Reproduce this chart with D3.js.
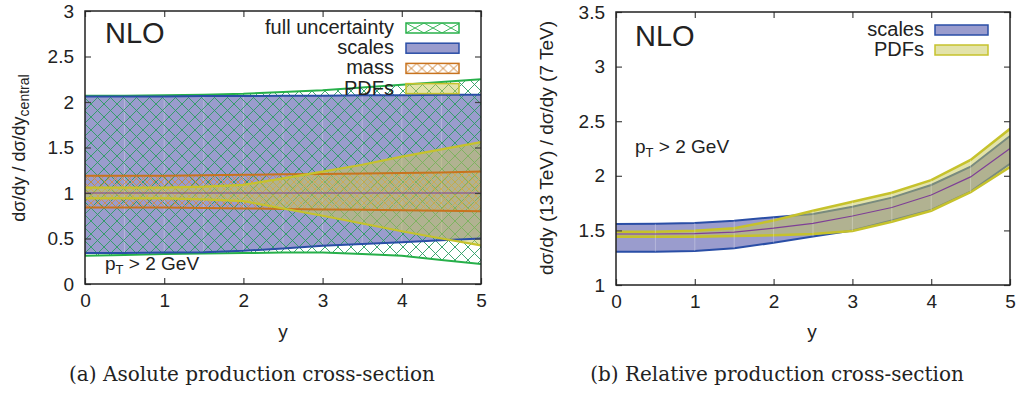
<!DOCTYPE html>
<html><head><meta charset="utf-8">
<script src="https://cdnjs.cloudflare.com/ajax/libs/d3/7.8.5/d3.min.js"></script>
<style>body{margin:0;background:#fff}svg{display:block}</style>
</head><body>
<svg id="c" width="1023" height="394"></svg>
<script>
// ---------- data ----------
const rapidity = [0,0.5,1,1.5,2,2.5,3,3.5,4,4.5,5];
const xTicks = [0,1,2,3,4,5];
const yTicksA = [0,0.5,1,1.5,2,2.5,3];
const yTicksB = [1,1.5,2,2.5,3,3.5];

// panel (a): ratio to central
const fullHi   = [2.07,2.07,2.075,2.08,2.09,2.11,2.13,2.16,2.19,2.22,2.25];
const fullLo   = [0.31,0.32,0.33,0.335,0.34,0.345,0.345,0.33,0.31,0.265,0.22];
const scalesHi = [2.06,2.06,2.06,2.065,2.065,2.07,2.07,2.075,2.075,2.08,2.08];
const scalesLo = [0.34,0.34,0.345,0.35,0.365,0.39,0.42,0.44,0.46,0.48,0.50];
const massHi   = [1.19,1.19,1.19,1.195,1.20,1.205,1.21,1.215,1.22,1.225,1.235];
const massLo   = [0.84,0.84,0.84,0.835,0.83,0.825,0.82,0.815,0.81,0.805,0.80];
const pdfHi    = [1.06,1.06,1.06,1.07,1.09,1.16,1.235,1.31,1.40,1.48,1.56];
const pdfLo    = [0.94,0.94,0.94,0.93,0.91,0.83,0.75,0.665,0.58,0.50,0.425];
const centralA = [1,1,1,1,1,1,1,1,1,1,1];

// panel (b): 13 TeV / 7 TeV
const scalesHiB = [1.558,1.56,1.568,1.589,1.62,1.65,1.717,1.80,1.916,2.083,2.365];
const scalesLoB = [1.305,1.305,1.311,1.336,1.387,1.445,1.50,1.59,1.687,1.855,2.11];
const pdfHiB    = [1.488,1.488,1.497,1.52,1.59,1.68,1.763,1.845,1.96,2.145,2.43];
const pdfLoB    = [1.442,1.442,1.442,1.449,1.455,1.467,1.495,1.58,1.68,1.85,2.08];
const centralB  = [1.467,1.467,1.47,1.485,1.52,1.565,1.632,1.71,1.824,1.99,2.25];

const legendA = ["full uncertainty","scales","mass","PDFs"];
const legendB = ["scales","PDFs"];

// ---------- style ----------
const C = {
  green:"#27b04a", hatchG:"#2a9c62", blue:"#2a4ea6", blueFill:"#9a9ccd",
  orange:"#c8731e", hatchO:"#d98a3c", yellow:"#c6c22c", yellowFill:"rgba(200,200,85,0.5)",
  purple:"#7e3f96", axis:"#222"
};
const SANS = "'Liberation Sans', Arial, Helvetica, sans-serif";
const SERIF = "'DejaVu Serif', serif";

const svg = d3.select("#c");
const defs = svg.append("defs");
const pg = defs.append("pattern").attr("id","hatchG").attr("patternUnits","userSpaceOnUse")
  .attr("width",13).attr("height",13);
pg.append("path").attr("d","M-1,-1L14,14M14,-1L-1,14").attr("stroke",C.hatchG).attr("stroke-width",0.9).attr("fill","none");
const po = defs.append("pattern").attr("id","hatchO").attr("patternUnits","userSpaceOnUse")
  .attr("width",7).attr("height",7);
po.append("path").attr("d","M-1,-1L8,8M8,-1L-1,8").attr("stroke",C.hatchO).attr("stroke-width",0.8).attr("fill","none");
const pgL = defs.append("pattern").attr("id","hatchGL").attr("patternUnits","userSpaceOnUse")
  .attr("width",18).attr("height",10).attr("x",406).attr("y",23);
pgL.append("path").attr("d","M0,0L18,10M18,0L0,10").attr("stroke",C.green).attr("stroke-width",0.9).attr("fill","none");
const poL = defs.append("pattern").attr("id","hatchOL").attr("patternUnits","userSpaceOnUse")
  .attr("width",10.6).attr("height",10).attr("x",406).attr("y",63.4);
poL.append("path").attr("d","M0,0L10.6,10M10.6,0L0,10").attr("stroke",C.orange).attr("stroke-width",0.9).attr("fill","none");

function panel(opt){
  const x = d3.scaleLinear().domain([0,5]).range(opt.xr);
  const y = d3.scaleLinear().domain(opt.yd).range(opt.yr);
  const g = svg.append("g");
  const cid = "clip"+opt.id;
  defs.append("clipPath").attr("id",cid).append("rect")
    .attr("x",opt.xr[0]).attr("y",opt.yr[1]).attr("width",opt.xr[1]-opt.xr[0]).attr("height",opt.yr[0]-opt.yr[1]);
  const plot = g.append("g").attr("clip-path",`url(#${cid})`);
  const area = (lo,hi)=>d3.area().x((d,i)=>x(rapidity[i])).y0((d,i)=>y(lo[i])).y1((d,i)=>y(hi[i]))(rapidity);
  const line = (v)=>d3.line().x((d,i)=>x(rapidity[i])).y((d,i)=>y(v[i]))(rapidity);
  return {x,y,g,plot,area,line};
}

function axes(p, yTicks, opt){
  const {x,y,g} = p;
  const fmt = d=>String(d);
  const xa = g.append("g").attr("transform",`translate(0,${opt.yr[0]})`)
    .call(d3.axisBottom(x).tickValues(xTicks).tickSize(-6).tickPadding(10).tickFormat(fmt));
  const xt = g.append("g").attr("transform",`translate(0,${opt.yr[1]})`)
    .call(d3.axisTop(x).tickValues(xTicks).tickSize(-6).tickFormat(""));
  const ya = g.append("g").attr("transform",`translate(${opt.xr[0]},0)`)
    .call(d3.axisLeft(y).tickValues(yTicks).tickSize(-6).tickPadding(11).tickFormat(fmt));
  const yr = g.append("g").attr("transform",`translate(${opt.xr[1]},0)`)
    .call(d3.axisRight(y).tickValues(yTicks).tickSize(-6).tickFormat(""));
  [xa,xt,ya,yr].forEach(a=>{
    a.select(".domain").remove();
    a.selectAll(".tick line").attr("stroke","#444").attr("stroke-width",1.2);
    a.selectAll("text").attr("font-family",SANS).attr("font-size",19).attr("fill","#222");
  });
  g.append("rect").attr("x",opt.xr[0]).attr("y",opt.yr[1])
    .attr("width",opt.xr[1]-opt.xr[0]).attr("height",opt.yr[0]-opt.yr[1])
    .attr("fill","none").attr("stroke",C.axis).attr("stroke-width",1.5);
}

function seams(p, lo, hi){
  rapidity.forEach((r,i)=>{
    if(i===0||i===rapidity.length-1) return;
    p.plot.append("line").attr("x1",p.x(r)).attr("x2",p.x(r))
      .attr("y1",p.y(lo[i])).attr("y2",p.y(hi[i]))
      .attr("stroke","#fff").attr("stroke-opacity",0.28).attr("stroke-width",1);
  });
}

// ---------- panel (a) ----------
const optA = {id:"a", xr:[85,481], yr:[284,11], yd:[0,3]};
const A = panel(optA);
A.plot.append("path").attr("d",A.area(scalesLo,scalesHi)).attr("fill",C.blueFill);
seams(A, scalesLo, scalesHi);
A.plot.append("path").attr("d",A.area(fullLo,fullHi)).attr("fill","url(#hatchG)");
A.plot.append("path").attr("d",A.area(massLo,massHi)).attr("fill","url(#hatchO)");
A.plot.append("path").attr("d",A.area(pdfLo,pdfHi)).attr("fill",C.yellowFill);
[[fullHi,C.green,2],[fullLo,C.green,2],[scalesHi,C.blue,2],[scalesLo,C.blue,2],
 [massHi,C.orange,2],[massLo,C.orange,2],[pdfHi,C.yellow,2.2],[pdfLo,C.yellow,2.2],[centralA,C.purple,1]]
 .forEach(([v,c,w])=>A.plot.append("path").attr("d",A.line(v)).attr("fill","none").attr("stroke",c).attr("stroke-width",w));
axes(A, yTicksA, optA);

// ---------- panel (b) ----------
const optB = {id:"b", xr:[616,1010], yr:[285,12], yd:[1,3.5]};
const B = panel(optB);
B.plot.append("path").attr("d",B.area(scalesLoB,scalesHiB)).attr("fill",C.blueFill);
[scalesHiB,scalesLoB].forEach(v=>B.plot.append("path").attr("d",B.line(v)).attr("fill","none").attr("stroke",C.blue).attr("stroke-width",2));
B.plot.append("path").attr("d",B.area(pdfLoB,pdfHiB)).attr("fill",C.yellowFill);
[pdfHiB,pdfLoB].forEach(v=>B.plot.append("path").attr("d",B.line(v)).attr("fill","none").attr("stroke",C.yellow).attr("stroke-width",2.5));
seams(B, scalesLoB.map((v,i)=>Math.min(v,pdfLoB[i])), scalesHiB.map((v,i)=>Math.max(v,pdfHiB[i])));
B.plot.append("path").attr("d",B.line(centralB)).attr("fill","none").attr("stroke",C.purple).attr("stroke-width",1.2);
axes(B, yTicksB, optB);

// ---------- texts ----------
function txt(x,y,s,size,anchor,fam){
  return svg.append("text").attr("x",x).attr("y",y).attr("font-family",fam||SANS)
    .attr("font-size",size).attr("text-anchor",anchor||"start").attr("fill","#222").text(s);
}
txt(105,43,"NLO",29);
txt(635,46,"NLO",29);
function pt(x,y){
  const t = svg.append("text").attr("x",x).attr("y",y).attr("font-family",SANS).attr("font-size",19).attr("fill","#222");
  t.append("tspan").text("p");
  t.append("tspan").attr("font-size",13).attr("dy",4).text("T");
  t.append("tspan").attr("dy",-4).text(" > 2 GeV");
}
pt(105,270);
pt(635,153);

txt(283,338,"y",19,"middle");
txt(812,338,"y",19,"middle");

// y titles
const tA = svg.append("text").attr("transform","translate(25,148) rotate(-90)")
  .attr("text-anchor","middle").attr("font-family",SANS).attr("font-size",18).attr("fill","#222");
tA.append("tspan").text("dσ/dy / dσ/dy");
tA.append("tspan").attr("font-size",14).attr("dy",4).text("central");
svg.append("text").attr("transform","translate(553,148) rotate(-90)")
  .attr("text-anchor","middle").attr("font-family",SANS).attr("font-size",19).attr("fill","#222")
  .text("dσ/dy (13 TeV) / dσ/dy (7 TeV)");

// captions
txt(252,381,"(a) Asolute production cross-section",20,"middle",SERIF);
txt(777,381,"(b) Relative production cross-section",20,"middle",SERIF);

// ---------- legends ----------
const styleA = [
  {fill:"url(#hatchGL)", stroke:C.green},
  {fill:C.blueFill, stroke:C.blue},
  {fill:"url(#hatchOL)", stroke:C.orange},
  {fill:C.yellowFill, stroke:C.yellow}
];
legendA.forEach((s,i)=>{
  const cy = 28 + i*20.2;
  txt(394,cy+6,s,20,"end");
  svg.append("rect").attr("x",406).attr("y",cy-5).attr("width",53).attr("height",10)
    .attr("fill",styleA[i].fill).attr("stroke",styleA[i].stroke).attr("stroke-width",1.5);
});
const styleB = [
  {fill:C.blueFill, stroke:C.blue},
  {fill:C.yellowFill, stroke:C.yellow}
];
legendB.forEach((s,i)=>{
  const cy = 30 + i*20;
  txt(924,cy+6,s,20,"end");
  svg.append("rect").attr("x",935).attr("y",cy-5).attr("width",53).attr("height",10)
    .attr("fill",styleB[i].fill).attr("stroke",styleB[i].stroke).attr("stroke-width",1.5);
});
</script>
</body></html>
